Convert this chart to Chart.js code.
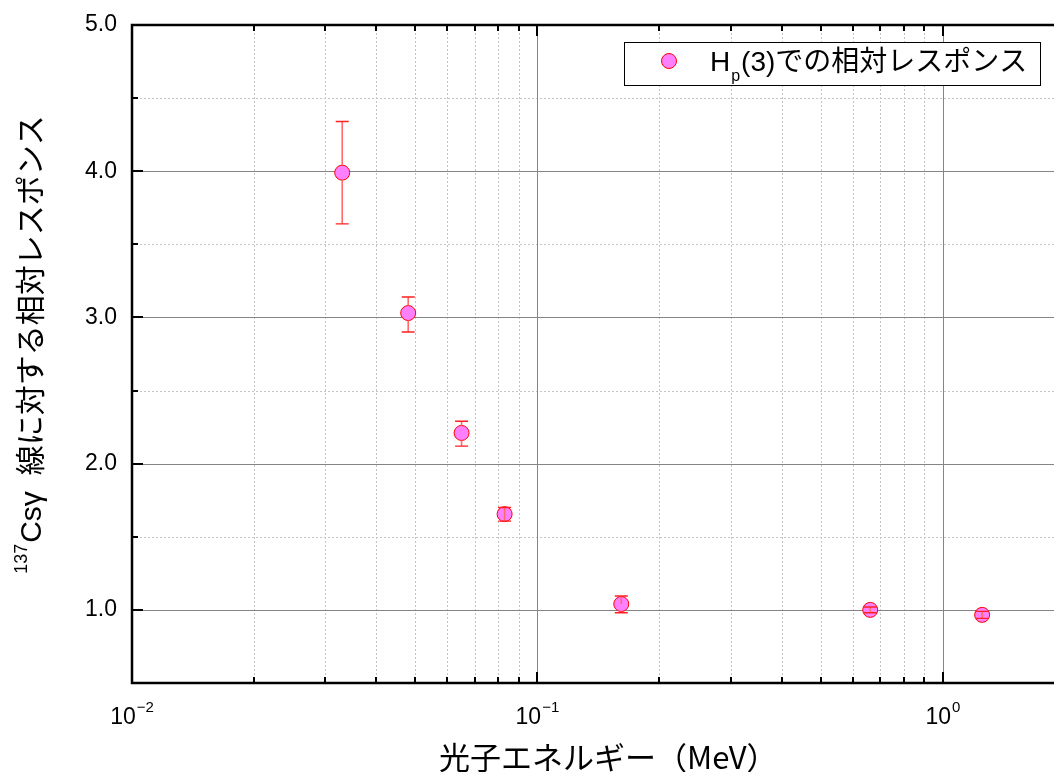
<!DOCTYPE html>
<html lang="ja">
<head>
<meta charset="UTF-8">
<title>相対レスポンス</title>
<script src="https://cdn.jsdelivr.net/npm/chart.js@4"></script>
<style>
  html, body { margin: 0; padding: 0; background: #fff; }
  #wrap { width: 1054px; height: 772px; }
</style>
</head>
<body>
<div id="wrap"><canvas id="chart" width="1054" height="772"></canvas></div>
<script>
// photon energy (MeV) and response relative to 137Cs
const energies  = [0.033, 0.048, 0.065, 0.083, 0.161, 0.662, 1.25];
const responses = [3.99, 3.03, 2.21, 1.655, 1.04, 1.00, 0.966];
const errUpper  = [4.34, 3.14, 2.29, 1.70, 1.095, 1.02, 0.99];
const errLower  = [3.64, 2.90, 2.12, 1.607, 0.98, 0.98, 0.942];

const xMajorTicks = [0.01, 0.1, 1];
const xMinorTicks = [0.02, 0.03, 0.04, 0.05, 0.06, 0.07, 0.08, 0.09,
                     0.2, 0.3, 0.4, 0.5, 0.6, 0.7, 0.8, 0.9];
const xTickExponents = ['−2', '−1', '0'];
const yTicks      = [0.5, 1.0, 1.5, 2.0, 2.5, 3.0, 3.5, 4.0, 4.5, 5.0];
const yTickLabels = ['', '1.0', '', '2.0', '', '3.0', '', '4.0', '', '5.0'];

const seriesName = ['H', 'p', '(3)での相対レスポンス'];
const xTitle = '光子エネルギー（MeV）';
const yTitle = ['137', 'Csγ', '線に対する相対レスポンス'];

const LATIN = '"Liberation Sans", "Noto Sans CJK JP", sans-serif';
const CJK = '"Noto Sans CJK JP", "Liberation Sans", sans-serif';
const R = 7.5; // marker radius

// grid, frame, inside ticks, error bars, labels, legend
const decorPlugin = {
    id: 'decor',
    beforeDatasetsDraw(chart) {
        const ctx = chart.ctx;
        const a = chart.chartArea;
        const xs = chart.scales.x, ys = chart.scales.y;
        ctx.save();
        // minor grid (dotted)
        ctx.strokeStyle = '#c4c4c4';
        ctx.lineWidth = 1;
        ctx.setLineDash([2, 2]);
        xMinorTicks.forEach(v => {
            const px = Math.round(xs.getPixelForValue(v)) + 0.5;
            ctx.beginPath(); ctx.moveTo(px, a.top); ctx.lineTo(px, a.bottom); ctx.stroke();
        });
        yTicks.forEach((v, i) => {
            if (yTickLabels[i] !== '') return;
            const py = Math.round(ys.getPixelForValue(v)) + 0.5;
            ctx.beginPath(); ctx.moveTo(a.left, py); ctx.lineTo(a.right, py); ctx.stroke();
        });
        // major grid (solid)
        ctx.setLineDash([]);
        ctx.strokeStyle = '#858585';
        xMajorTicks.forEach(v => {
            const px = Math.round(xs.getPixelForValue(v)) + 0.5;
            ctx.beginPath(); ctx.moveTo(px, a.top); ctx.lineTo(px, a.bottom); ctx.stroke();
        });
        yTicks.forEach((v, i) => {
            if (yTickLabels[i] === '') return;
            const py = Math.round(ys.getPixelForValue(v)) + 0.5;
            ctx.beginPath(); ctx.moveTo(a.left, py); ctx.lineTo(a.right, py); ctx.stroke();
        });
        ctx.restore();
    },
    afterDatasetsDraw(chart) {
        const ctx = chart.ctx;
        const xs = chart.scales.x, ys = chart.scales.y;
        ctx.save();
        // error bars, on top of the markers but not across them
        energies.forEach((e, i) => {
            const px = xs.getPixelForValue(e);
            const py = ys.getPixelForValue(responses[i]);
            const top = ys.getPixelForValue(errUpper[i]);
            const bot = ys.getPixelForValue(errLower[i]);
            ctx.strokeStyle = '#ff6a6a';
            ctx.lineWidth = 1.6;
            ctx.beginPath();
            if (py - top > R + 1) { ctx.moveTo(px, top); ctx.lineTo(px, py - R); }
            else { ctx.moveTo(px, top); ctx.lineTo(px, py); }
            if (bot - py > R + 1) { ctx.moveTo(px, py + R); ctx.lineTo(px, bot); }
            else { ctx.moveTo(px, py); ctx.lineTo(px, bot); }
            ctx.stroke();
            ctx.strokeStyle = '#ff2020';
            ctx.lineWidth = 1.4;
            ctx.beginPath();
            ctx.moveTo(px - 6.5, top); ctx.lineTo(px + 6.5, top);
            ctx.moveTo(px - 6.5, bot); ctx.lineTo(px + 6.5, bot);
            ctx.stroke();
        });
        ctx.restore();
    },
    afterDraw(chart) {
        const ctx = chart.ctx;
        const a = chart.chartArea;
        const xs = chart.scales.x, ys = chart.scales.y;
        ctx.save();
        ctx.strokeStyle = '#000';
        // inside ticks
        ctx.lineWidth = 2;
        yTicks.forEach((v, i) => {
            const py = Math.round(ys.getPixelForValue(v));
            const len = yTickLabels[i] === '' ? 6 : 11;
            ctx.beginPath(); ctx.moveTo(a.left, py); ctx.lineTo(a.left + len, py); ctx.stroke();
        });
        xMinorTicks.concat(xMajorTicks).forEach(v => {
            const px = Math.round(xs.getPixelForValue(v));
            const len = xMajorTicks.includes(v) ? 11 : 6;
            ctx.beginPath();
            ctx.moveTo(px, a.bottom); ctx.lineTo(px, a.bottom - len);
            ctx.moveTo(px, a.top); ctx.lineTo(px, a.top + len);
            ctx.stroke();
        });
        // frame
        ctx.lineWidth = 2.5;
        ctx.beginPath();
        ctx.moveTo(a.right, a.top); ctx.lineTo(a.left, a.top);
        ctx.lineTo(a.left, a.bottom); ctx.lineTo(a.right, a.bottom);
        ctx.stroke();

        ctx.fillStyle = '#000';
        ctx.textBaseline = 'alphabetic';
        // x tick labels 10^n
        xMajorTicks.forEach((v, i) => {
            const px = xs.getPixelForValue(v);
            ctx.font = '23px ' + LATIN;
            const wb = ctx.measureText('10').width;
            ctx.font = '15px ' + LATIN;
            const we = ctx.measureText(xTickExponents[i]).width;
            const x0 = px - (wb + we + 1) / 2;
            ctx.textAlign = 'left';
            ctx.font = '23px ' + LATIN;
            ctx.fillText('10', x0, 724);
            ctx.font = '15px ' + LATIN;
            ctx.fillText(xTickExponents[i], x0 + wb + 1, 712);
        });
        // x title
        ctx.font = '31px ' + CJK;
        ctx.textAlign = 'left';
        ctx.textBaseline = 'middle';
        ctx.fillText(xTitle, 439, 757);

        // y title (rotated)
        ctx.save();
        ctx.translate(32, 345);
        ctx.rotate(-Math.PI / 2);
        ctx.textAlign = 'left';
        ctx.textBaseline = 'alphabetic';
        ctx.font = '18px ' + LATIN;
        const w1 = ctx.measureText(yTitle[0]).width;
        ctx.font = '30px ' + LATIN;
        const w2 = ctx.measureText(yTitle[1]).width;
        ctx.font = '30px ' + CJK;
        const w3 = ctx.measureText(yTitle[2]).width;
        const gap = 16;
        let x = -(w1 + w2 + gap + w3) / 2;
        ctx.font = '18px ' + LATIN;
        ctx.fillText(yTitle[0], x, -5);
        x += w1 + 1;
        ctx.font = '30px ' + LATIN;
        ctx.fillText(yTitle[1], x, 9);
        x += w2 + gap;
        ctx.font = '30px ' + CJK;
        ctx.fillText(yTitle[2], x, 9);
        ctx.restore();

        // legend
        ctx.fillStyle = '#fff';
        ctx.fillRect(624, 42, 416, 43);
        ctx.lineWidth = 1;
        ctx.strokeStyle = '#000';
        ctx.strokeRect(624.5, 42.5, 416, 43);
        ctx.beginPath();
        ctx.arc(669, 61, R, 0, Math.PI * 2);
        ctx.fillStyle = '#ff80ff';
        ctx.fill();
        ctx.strokeStyle = '#ff0000';
        ctx.stroke();
        ctx.fillStyle = '#000';
        ctx.textAlign = 'left';
        ctx.textBaseline = 'alphabetic';
        ctx.font = '28px ' + LATIN;
        ctx.fillText(seriesName[0], 710, 71);
        const wh = ctx.measureText(seriesName[0]).width;
        ctx.font = '16px ' + LATIN;
        ctx.fillText(seriesName[1], 710 + wh + 1, 81);
        const wp = ctx.measureText(seriesName[1]).width;
        ctx.font = '28px ' + LATIN;
        ctx.fillText(seriesName[2], 710 + wh + wp + 2, 71);
        ctx.restore();
    }
};

const ctx = document.getElementById('chart').getContext('2d');
const chart = new Chart(ctx, {
    type: 'scatter',
    data: {
        datasets: [{
            label: seriesName.join(''),
            data: energies.map((e, i) => ({ x: e, y: responses[i] })),
            pointRadius: R,
            pointBorderWidth: 1,
            pointBackgroundColor: '#ff80ff',
            pointBorderColor: '#ff0000',
            showLine: false
        }]
    },
    options: {
        responsive: false,
        animation: false,
        layout: { autoPadding: false, padding: { top: 25, right: 0, left: 0, bottom: 0 } },
        plugins: {
            legend: { display: false },
            tooltip: { enabled: false }
        },
        scales: {
            x: {
                type: 'logarithmic',
                min: 0.01,
                max: 1.88,
                grid: { display: false },
                border: { display: false },
                ticks: { display: false },
                afterFit: s => {
                    s.height = 89;
                    s.paddingLeft = 0; s.paddingRight = 0;
                }
            },
            y: {
                type: 'linear',
                min: 0.5,
                max: 5.0,
                afterBuildTicks: s => { s.ticks = yTicks.map(v => ({ value: v })); },
                grid: { display: false, drawTicks: false },
                border: { display: false },
                ticks: {
                    padding: 15,
                    color: '#000',
                    font: { family: LATIN, size: 23 },
                    callback: (v, i) => yTickLabels[i]
                },
                afterFit: s => {
                    s.width = 132;
                    s.paddingTop = 0; s.paddingBottom = 0;
                }
            }
        }
    },
    plugins: [decorPlugin]
});
</script>
</body>
</html>
